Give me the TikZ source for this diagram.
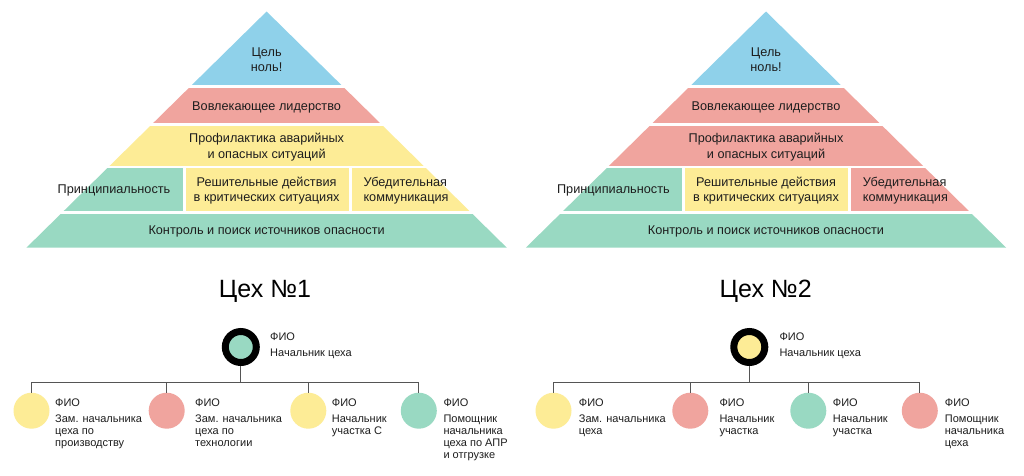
\documentclass[tikz,border=0pt]{standalone}
\usepackage{fontspec}
\setmainfont{Liberation Sans}
\definecolor{cblue}{RGB}{143,209,234}
\definecolor{cred}{RGB}{240,164,158}
\definecolor{cyel}{RGB}{253,236,150}
\definecolor{cgrn}{RGB}{153,217,194}
\definecolor{ctext}{RGB}{30,30,30}
\definecolor{cline}{RGB}{85,85,85}
\tikzset{
  ptext/.style={font=\fontsize{12.7}{15.5}\selectfont, text=ctext, align=center, inner sep=0pt},
  ttl/.style={font=\fontsize{25}{30}\selectfont, text=black, inner sep=0pt},
  fio/.style={font=\fontsize{11}{12}\selectfont, text=ctext, anchor=west, inner sep=0pt},
  desc/.style={font=\fontsize{11}{12}\selectfont, text=ctext, anchor=north west, align=left, inner sep=0pt},
  boss/.style={circle, draw=black, line width=7pt, minimum size=31pt, inner sep=0pt},
  child/.style={circle, minimum size=36pt, inner sep=0pt},
  link/.style={draw=cline, line width=1.3pt},
}
% #1 centre x, #2..#8 colours: top, lvl2, lvl3, lvl4 left, lvl4 mid, lvl4 right, base; #9 prefix
\newcommand{\pyrdraw}[9]{%
  \begin{scope}
    \clip (#1,11.5) -- (#1-240.2,247.7) -- (#1+240.2,247.7) -- cycle;
    \fill[#2] (#1-250,0) rectangle (#1+250,84.5);
    \fill[#3] (#1-250,87.5) rectangle (#1+250,123);
    \fill[#4] (#1-250,126) rectangle (#1+250,165.5);
    \fill[#5] (#1-250,168) rectangle (#1-84.1,211);
    \fill[#6] (#1-81.1,168) rectangle (#1+82.4,211);
    \fill[#7] (#1+85.4,168) rectangle (#1+250,211);
    \fill[#8] (#1-250,214) rectangle (#1+250,248);
  \end{scope}
  \node[ptext] (#9goal) at (#1,59.5) {Цель\\ноль!};
  \node[ptext] (#9lead) at (#1,107.5) {Вовлекающее лидерство};
  \node[ptext] (#9prof) at (#1,147) {Профилактика аварийных\\и опасных ситуаций};
  \node[ptext] (#9princ) at (#1-152.6,190.5) {Принципиальность};
  \node[ptext] (#9dec) at (#1,190.5) {Решительные действия\\в критических ситуациях};
  \node[ptext, align=left] (#9conv) at (#1+139.4,190.5) {Убедительная\\коммуникация};
  \node[ptext] (#9ctrl) at (#1,231) {Контроль и поиск источников опасности};
}
\begin{document}
\begin{tikzpicture}[x=1pt,y=-1pt]
\useasboundingbox (0,0) rectangle (1024,475);
\fill[white] (0,0) rectangle (1024,475);

\pyrdraw{266.6}{cblue}{cred}{cyel}{cgrn}{cyel}{cyel}{cgrn}{a}
\pyrdraw{766}{cblue}{cred}{cred}{cgrn}{cyel}{cred}{cgrn}{b}

\node[ttl] (t1) at (265,291) {Цех №1};
\node[ttl] (t2) at (765.7,291) {Цех №2};

% ---- chart 1
\node[boss, fill=cgrn] (aboss) at (240.8,347) {};
\node[fio] (abf) at (270,336.7) {ФИО};
\node[fio] (abd) at (270,354) {Начальник цеха};
\coordinate (aj) at (240.8,382.7);
\node[child, fill=cyel] (ac1) at (31.5,410.7) {};
\node[child, fill=cred] (ac2) at (166.7,410.7) {};
\node[child, fill=cyel] (ac3) at (308.3,410.7) {};
\node[child, fill=cgrn] (ac4) at (418.8,410.7) {};
\draw[link] (aboss.south) -- (aj);
\foreach \c in {ac1,ac2,ac3,ac4} \draw[link] (aj) -| (\c.north);
\node[fio] (ac1f) at (55,402.3) {ФИО};
\node[desc] (ac1d) at (55,414.5) {Зам. начальника\\цеха по\\производству};
\node[fio] (ac2f) at (195,402.3) {ФИО};
\node[desc] (ac2d) at (195,414.5) {Зам. начальника\\цеха по\\технологии};
\node[fio] (ac3f) at (331.7,402.3) {ФИО};
\node[desc] (ac3d) at (331.7,414.5) {Начальник\\участка С};
\node[fio] (ac4f) at (443.3,402.3) {ФИО};
\node[desc] (ac4d) at (443.3,414.5) {Помощник\\начальника\\цеха по АПР\\и отгрузке};

% ---- chart 2
\node[boss, fill=cyel] (bboss) at (749.3,347) {};
\node[fio] (bbf) at (779.3,336.7) {ФИО};
\node[fio] (bbd) at (779.3,354) {Начальник цеха};
\coordinate (bj) at (749.3,382.7);
\node[child, fill=cyel] (bc1) at (553.5,410.7) {};
\node[child, fill=cred] (bc2) at (690.3,410.7) {};
\node[child, fill=cgrn] (bc3) at (808.3,410.7) {};
\node[child, fill=cred] (bc4) at (919.8,410.7) {};
\draw[link] (bboss.south) -- (bj);
\foreach \c in {bc1,bc2,bc3,bc4} \draw[link] (bj) -| (\c.north);
\node[fio] (bc1f) at (578.7,402.3) {ФИО};
\node[desc] (bc1d) at (578.7,414.5) {Зам. начальника\\цеха};
\node[fio] (bc2f) at (719.3,402.3) {ФИО};
\node[desc] (bc2d) at (719.3,414.5) {Начальник\\участка};
\node[fio] (bc3f) at (832.7,402.3) {ФИО};
\node[desc] (bc3d) at (832.7,414.5) {Начальник\\участка};
\node[fio] (bc4f) at (944.7,402.3) {ФИО};
\node[desc] (bc4d) at (944.7,414.5) {Помощник\\начальника\\цеха};
\end{tikzpicture}
\end{document}
